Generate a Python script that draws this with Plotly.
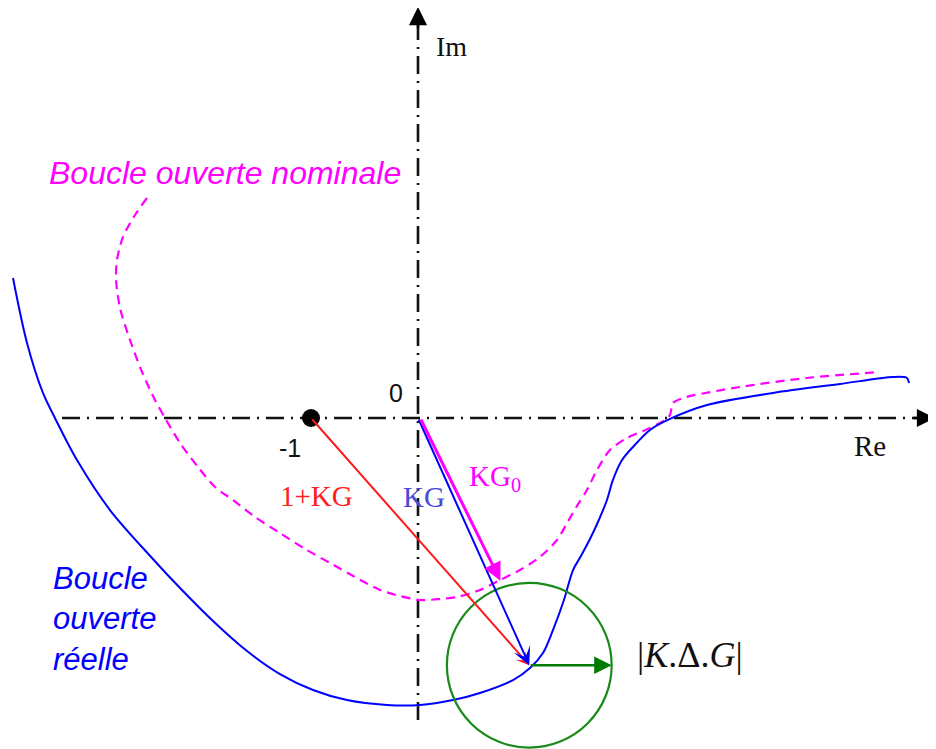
import plotly.graph_objects as go

# ---------------- data (complex-plane units, critical point at -1) ----------------
real_x = [-3.785, -3.654, -3.505, -3.393, -3.187, -2.879, -2.486, -2.224, -1.916, -1.598,
          -1.290, -0.981, -0.664, -0.290, 0.019, 0.327, 0.579, 0.888, 1.047, 1.168,
          1.262, 1.364, 1.449, 1.523, 1.607, 1.682, 1.766, 1.822, 1.907, 2.009, 2.168,
          2.355, 2.701, 3.318, 3.944, 4.439, 4.570, 4.589]
real_y = [1.308, 0.701, 0.234, 0.000, -0.393, -0.860, -1.308, -1.589, -1.897, -2.178,
          -2.393, -2.542, -2.636, -2.682, -2.682, -2.636, -2.570, -2.449, -2.336, -2.196,
          -1.981, -1.701, -1.421, -1.290, -1.131, -0.972, -0.766, -0.579, -0.393, -0.271, -0.112,
          -0.009, 0.121, 0.234, 0.318, 0.383, 0.374, 0.327]

nom_x = [-2.533, -2.645, -2.757, -2.813, -2.822, -2.785, -2.692, -2.579, -2.458, -2.364,
         -2.224, -2.056, -1.897, -1.729, -1.523, -1.290, -1.056, -0.822, -0.589, -0.355,
         -0.168, 0.019, 0.206, 0.364, 0.579, 0.766, 0.953, 1.140, 1.299, 1.393,
         1.486, 1.579, 1.673, 1.794, 1.953, 2.168, 2.308, 2.355, 2.383, 2.477,
         3.009, 3.636, 4.318]
nom_y = [2.056, 1.897, 1.692, 1.477, 1.290, 1.028, 0.729, 0.430, 0.168, 0.000,
         -0.234, -0.458, -0.645, -0.766, -0.925, -1.075, -1.224, -1.355, -1.486, -1.607,
         -1.664, -1.701, -1.692, -1.673, -1.607, -1.514, -1.421, -1.299, -1.140, -0.981,
         -0.822, -0.673, -0.486, -0.299, -0.187, -0.093, -0.019, 0.028, 0.140, 0.187,
         0.290, 0.374, 0.430]

critical = (-1.0, 0.0)        # point -1
kg = (1.04, -2.31)            # K.G (real loop)
kg0 = (0.77, -1.52)           # K.G0 (nominal loop)
delta_radius = 0.77           # |K.ΔG|

# ---------------- layout helpers ----------------
PAGE_W, PAGE_H = 936, 749
OFF = 8                          # default body margin of the html page
W, H = PAGE_W - OFF, PAGE_H - OFF
ORX, ORY, S = 418, 418, 107.0    # page-pixel position of origin and pixels per unit
x_range = [(OFF - ORX) / S, (PAGE_W - ORX) / S]
y_range = [(ORY - PAGE_H) / S, (ORY - OFF) / S]


def P(px, py):
    return (px - OFF) / W, 1 - (py - OFF) / H


def U(px, py):
    return (px - ORX) / S, (ORY - py) / S


fig = go.Figure()

axis_dash = "18px,7px,2px,7px"
hx0, _ = U(62, 0)
hx1, _ = U(926, 0)
_, vy0 = U(0, 720)
_, vy1 = U(0, 22)
fig.add_trace(go.Scatter(x=[hx0, hx1], y=[0, 0], mode="lines",
                         line=dict(color="#111111", width=2.6, dash=axis_dash), hoverinfo="skip"))
fig.add_trace(go.Scatter(x=[0, 0], y=[vy0, vy1], mode="lines",
                         line=dict(color="#111111", width=2.6, dash=axis_dash), hoverinfo="skip"))

fig.add_trace(go.Scatter(x=nom_x, y=nom_y, mode="lines",
                         line=dict(color="#ff00ff", width=2.2, dash="9px,6px", shape="spline", smoothing=0.8),
                         hoverinfo="skip"))
fig.add_trace(go.Scatter(x=real_x, y=real_y, mode="lines",
                         line=dict(color="#0000ff", width=2.0, shape="spline", smoothing=0.9),
                         hoverinfo="skip"))

fig.add_trace(go.Scatter(x=[critical[0]], y=[critical[1]], mode="markers",
                         marker=dict(color="black", size=18), hoverinfo="skip"))

fig.add_shape(type="circle", xref="x", yref="y",
              x0=kg[0] - delta_radius, x1=kg[0] + delta_radius,
              y0=kg[1] - delta_radius, y1=kg[1] + delta_radius,
              line=dict(color="#1a8a1a", width=2.2))

annotations = []


def arrow(tip, tail, color, width, head, size):
    annotations.append(dict(x=tip[0], y=tip[1], ax=tail[0], ay=tail[1],
                            xref="x", yref="y", axref="x", ayref="y",
                            text="", showarrow=True, arrowcolor=color,
                            arrowwidth=width, arrowhead=head, arrowsize=size, standoff=0))


arrow(U(418, 7), U(418, 30), "black", 2.5, 2, 1.45)
arrow(U(935, 418), U(912, 418), "black", 2.5, 2, 1.45)

arrow(kg, critical, "#ff1a1a", 2.0, 3, 1.1)
arrow(kg, (0, 0), "#0000ff", 2.0, 3, 1.5)
arrow(kg0, (0.02, 0), "#ff00ff", 3.0, 2, 1.2)
arrow((kg[0] + delta_radius, kg[1]), kg, "#007a00", 2.5, 2, 1.4)


def label(text, px, py, size, color, family, xanchor="center", align="center"):
    x, y = P(px, py)
    annotations.append(dict(x=x, y=y, xref="paper", yref="paper", text=text, showarrow=False,
                            xanchor=xanchor, yanchor="middle", align=align,
                            font=dict(size=size, color=color, family=family)))


serif = "Liberation Serif"
sans = "Liberation Sans"
label("Im", 451, 47, 28, "#111111", serif)
label("Re", 870, 446, 29, "#111111", serif)
label("0", 396, 393, 25, "#111111", sans)
label("-1", 290, 448, 25, "#111111", sans)
label("1+KG", 316, 496, 29, "#ff2020", serif)
label("KG", 424, 497, 29, "#4a4ad6", serif)
label("KG<sub>0</sub>", 495, 478, 29, "#ff00ff", serif)
label("|<i>K</i>.Δ.<i>G</i>|", 690, 655, 36, "#111111", serif)
label("<i>Boucle ouverte nominale</i>", 225, 173, 32, "#ff00ff", sans)
label("<i>Boucle<br>ouverte<br>réelle</i>", 51, 619, 31, "#0000ff", sans, xanchor="left", align="left")

fig.update_layout(
    width=W, height=H,
    margin=dict(l=0, r=0, t=0, b=0),
    paper_bgcolor="white", plot_bgcolor="white",
    showlegend=False,
    xaxis=dict(range=x_range, visible=False, fixedrange=True),
    yaxis=dict(range=y_range, visible=False, fixedrange=True),
    annotations=annotations,
)

fig.write_html("out.html", config={"displayModeBar": False})
